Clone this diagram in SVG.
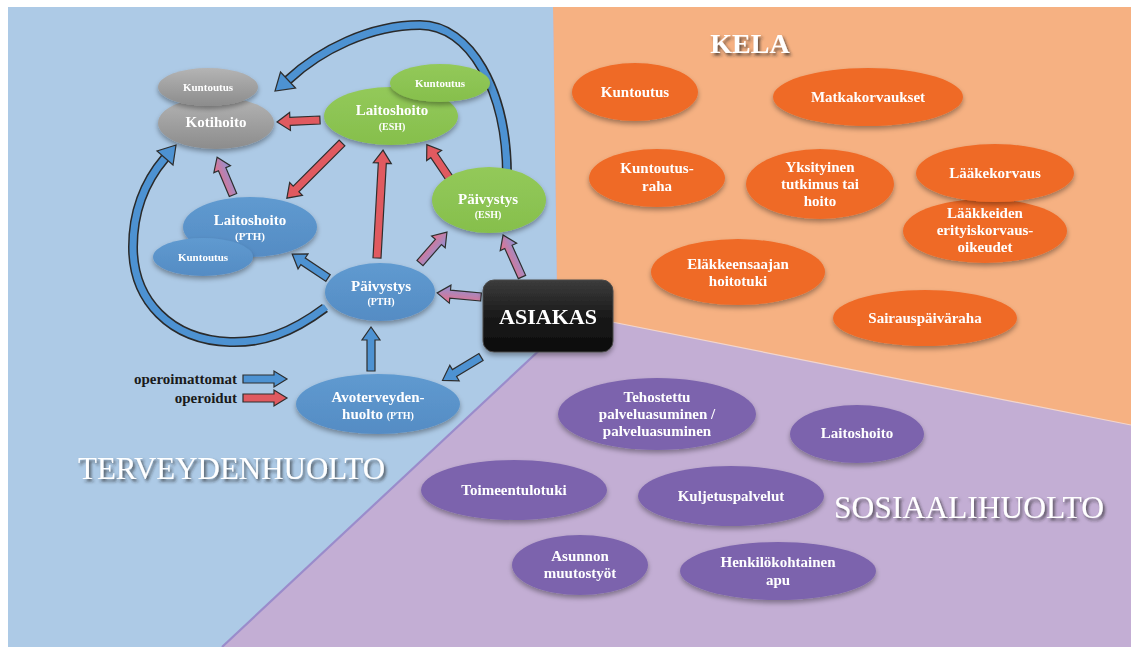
<svg xmlns="http://www.w3.org/2000/svg" width="1131" height="647" viewBox="0 0 1131 647">
<defs>
<style>
.nt{font-family:"Liberation Serif","DejaVu Serif",serif;font-weight:bold;fill:#fff;text-anchor:middle}
.f15{font-size:15px}
.f11{font-size:11px}
.f10{font-size:10px}
.lg{font-family:"Liberation Serif","DejaVu Serif",serif;font-weight:bold;font-size:15px;fill:#1a1a1a;text-anchor:end}
.title{font-family:"Liberation Serif","DejaVu Serif",serif;fill:#fff}
.red{fill:#e05a60;stroke:#2e2e2e;stroke-width:1.2;stroke-linejoin:miter}
.blu{fill:#4d92d2;stroke:#2e2e2e;stroke-width:1.2}
.pnk{fill:url(#pg);stroke:#2e2e2e;stroke-width:1.2}
.eb{fill:url(#gb)}
.eg{fill:url(#gg)}
.egr{fill:url(#ggr)}
.eo{fill:#ef6a27}
.ep{fill:#7c64ad}
.band{fill:none;stroke:#2a2a2a;stroke-width:10}
.bandin{fill:none;stroke:#4d92d2;stroke-width:7}
</style>
<linearGradient id="pg" x1="0" y1="0" x2="0" y2="1">
<stop offset="0" stop-color="#ea6f86"/><stop offset="1" stop-color="#8b93d8"/>
</linearGradient>
<linearGradient id="gb" x1="0" y1="0" x2="0" y2="1">
<stop offset="0" stop-color="#5f9ad0"/><stop offset="1" stop-color="#558cc4"/>
</linearGradient>
<linearGradient id="gg" x1="0" y1="0" x2="0" y2="1">
<stop offset="0" stop-color="#93c95a"/><stop offset="1" stop-color="#86bf4c"/>
</linearGradient>
<linearGradient id="ggr" x1="0" y1="0" x2="0" y2="1">
<stop offset="0" stop-color="#b4b4b4"/><stop offset="1" stop-color="#8c8c8c"/>
</linearGradient>
<linearGradient id="ga" x1="0" y1="0" x2="0" y2="1">
<stop offset="0" stop-color="#3c3c3c"/><stop offset="0.5" stop-color="#1a1a1a"/><stop offset="1" stop-color="#0c0c0c"/>
</linearGradient>
<filter id="sh" x="-20%" y="-20%" width="140%" height="160%">
<feDropShadow dx="0" dy="3" stdDeviation="2.5" flood-color="#000" flood-opacity="0.35"/>
</filter>
<filter id="tsh" x="-10%" y="-30%" width="120%" height="170%">
<feDropShadow dx="2" dy="2.5" stdDeviation="1.5" flood-color="#222" flood-opacity="0.7"/>
</filter>
</defs>

<!-- background regions -->
<rect x="0" y="0" width="1131" height="647" fill="#ffffff"/>
<rect x="8" y="7" width="1123" height="640" fill="#c3aed4"/>
<polygon points="553,7 1131,7 1131,425 612,322 557,300" fill="#f6b182"/>
<line x1="612" y1="322" x2="1131" y2="425" stroke="#f3d6cc" stroke-width="1.2"/>
<polygon points="8,7 553,7 557,300 545,345 222,647 8,647" fill="#adcae6"/>
<line x1="545" y1="345" x2="222" y2="647" stroke="#9a8ccb" stroke-width="2.2"/>

<!-- section titles -->
<text class="title" x="750" y="53" font-size="28" font-weight="bold" text-anchor="middle" filter="url(#tsh)">KELA</text>
<text class="title" x="78" y="479" font-size="31" textLength="307" lengthAdjust="spacingAndGlyphs" filter="url(#tsh)">TERVEYDENHUOLTO</text>
<text class="title" x="834" y="518" font-size="31" textLength="270" lengthAdjust="spacingAndGlyphs" filter="url(#tsh)">SOSIAALIHUOLTO</text>

<!-- connectors -->
<g id="connectors">
<!-- big arc Päivystys (ESH) -> Kotihoito -->
<path class="band" d="M507,176 C507,90 470,25 420,25 C370,25 320,50 288,80"/>
<path class="bandin" d="M507,177 C507,90 470,25 420,25 C370,25 320,50 288,80"/>
<polygon class="blu" points="295.5,88 280.5,72 275,91"/>
<!-- loop Päivystys (PTH) -> Kotihoito -->
<path class="band" d="M325,308 C290,334 262,343 230,342 C170,340 133,300 133,247 C133,205 148,178 165,158"/>
<path class="bandin" d="M326,307 C290,334 262,343 230,342 C170,340 133,300 133,247 C133,205 148,178 165,158"/>
<polygon class="blu" points="173,165 157,151 176,145"/>

<!-- straight block arrows -->
<path class="red" transform="translate(320,120) rotate(177.3)" d="M0,-4 H30 V-9 L43,0 L30,9 V4 H0 Z"/>
<path class="red" transform="translate(342,143) rotate(135)" d="M0,-4 H65 V-9 L78,0 L65,9 V4 H0 Z"/>
<path class="red" transform="translate(377,258) rotate(-86.8)" d="M0,-4 H95 V-9 L108,0 L95,9 V4 H0 Z"/>
<path class="red" transform="translate(452,182) rotate(-124)" d="M0,-4 H32 V-9 L45,0 L32,9 V4 H0 Z"/>
<path class="pnk" transform="translate(233,195) rotate(-112.8)" d="M0,-4 H28 V-9 L41,0 L28,9 V4 H0 Z"/>
<path class="pnk" transform="translate(420,263) rotate(-48.9)" d="M0,-4 H28 V-9 L41,0 L28,9 V4 H0 Z"/>
<path class="pnk" transform="translate(522,277) rotate(-114.3)" d="M0,-4 H33 V-9 L46,0 L33,9 V4 H0 Z"/>
<path class="pnk" transform="translate(481,297) rotate(-174.7)" d="M0,-4 H31 V-9 L44,0 L31,9 V4 H0 Z"/>
<path class="blu" transform="translate(328,278) rotate(-146.3)" d="M0,-4 H30 V-9 L43,0 L30,9 V4 H0 Z"/>
<path class="blu" transform="translate(371,371) rotate(-90)" d="M0,-4 H31 V-9 L44,0 L31,9 V4 H0 Z"/>
<path class="blu" transform="translate(481,357) rotate(148.8)" d="M0,-4 H31 V-9 L45,0 L31,9 V4 H0 Z"/>
<!-- legend arrows -->
<path class="blu" transform="translate(243,379)" d="M0,-4 H31 V-8 L44,0 L31,8 V4 H0 Z"/>
<path class="red" transform="translate(243,398)" d="M0,-4 H31 V-8 L44,0 L31,8 V4 H0 Z"/>
</g>

<!-- legend labels -->
<g id="legend">
<text class="lg" x="237" y="384">operoimattomat</text>
<text class="lg" x="237" y="403">operoidut</text>
</g>

<!-- health care nodes -->
<g id="kotihoito" filter="url(#sh)">
<ellipse class="egr" cx="216" cy="123" rx="58" ry="26"/>
<text class="nt f15" x="216" y="127">Kotihoito</text>
</g>
<g id="kuntoutus-koti" filter="url(#sh)">
<ellipse class="egr" cx="208" cy="87" rx="50" ry="19"/>
<text class="nt f11" x="208" y="91">Kuntoutus</text>
</g>
<g id="laitoshoito-esh" filter="url(#sh)">
<ellipse class="eg" cx="391" cy="116" rx="67" ry="29"/>
<text class="nt f15" x="392" y="115">Laitoshoito</text>
<text class="nt f10" x="392" y="130">(ESH)</text>
</g>
<g id="kuntoutus-esh" filter="url(#sh)">
<ellipse class="eg" cx="440" cy="83" rx="50" ry="19"/>
<text class="nt f11" x="440" y="87">Kuntoutus</text>
</g>
<g id="paivystys-esh" filter="url(#sh)">
<ellipse class="eg" cx="489" cy="200" rx="57" ry="33"/>
<text class="nt f15" x="488" y="204">Päivystys</text>
<text class="nt f10" x="488" y="218">(ESH)</text>
</g>
<g id="laitoshoito-pth" filter="url(#sh)">
<ellipse class="eb" cx="250" cy="227" rx="67" ry="30"/>
<text class="nt f15" x="250" y="225">Laitoshoito</text>
<text class="nt f11" x="250" y="240">(PTH)</text>
</g>
<g id="kuntoutus-pth" filter="url(#sh)">
<ellipse class="eb" cx="203" cy="257" rx="50" ry="19"/>
<text class="nt f11" x="203" y="261">Kuntoutus</text>
</g>
<g id="paivystys-pth" filter="url(#sh)">
<ellipse class="eb" cx="380" cy="292" rx="55" ry="29"/>
<text class="nt f15" x="381" y="291">Päivystys</text>
<text class="nt f10" x="381" y="305">(PTH)</text>
</g>
<g id="avoterveydenhuolto" filter="url(#sh)">
<ellipse class="eb" cx="378" cy="404" rx="82" ry="30"/>
<text class="nt f15" x="378" y="402">Avoterveyden-</text>
<text class="nt f15" x="378" y="419">huolto <tspan font-size="10px">(PTH)</tspan></text>
</g>

<!-- ASIAKAS -->
<g id="asiakas" filter="url(#sh)">
<rect x="483" y="280" width="130" height="72" rx="11" fill="url(#ga)" stroke="#4a4a4a" stroke-width="1"/>
<text class="nt" x="548" y="324" font-size="22" textLength="98" lengthAdjust="spacingAndGlyphs">ASIAKAS</text>
</g>

<!-- KELA nodes -->
<g id="kela-kuntoutus" filter="url(#sh)">
<ellipse class="eo" cx="635" cy="92" rx="63" ry="29"/>
<text class="nt f15" x="635" y="97">Kuntoutus</text>
</g>
<g id="matkakorvaukset" filter="url(#sh)">
<ellipse class="eo" cx="868" cy="97" rx="95" ry="29"/>
<text class="nt f15" x="868" y="102">Matkakorvaukset</text>
</g>
<g id="kuntoutusraha" filter="url(#sh)">
<ellipse class="eo" cx="657" cy="178" rx="68" ry="29"/>
<text class="nt f15" x="657" y="173">Kuntoutus-</text>
<text class="nt f15" x="657" y="191">raha</text>
</g>
<g id="yksityinen" filter="url(#sh)">
<ellipse class="eo" cx="820" cy="184" rx="74" ry="35"/>
<text class="nt f15" x="820" y="172">Yksityinen</text>
<text class="nt f15" x="820" y="189">tutkimus tai</text>
<text class="nt f15" x="820" y="206">hoito</text>
</g>
<g id="laakkeiden" filter="url(#sh)">
<ellipse class="eo" cx="985" cy="231" rx="82" ry="32"/>
<text class="nt f15" x="985" y="218">Lääkkeiden</text>
<text class="nt f15" x="985" y="235">erityiskorvaus-</text>
<text class="nt f15" x="985" y="252">oikeudet</text>
</g>
<g id="laakekorvaus" filter="url(#sh)">
<ellipse class="eo" cx="995" cy="173" rx="79" ry="29"/>
<text class="nt f15" x="995" y="178">Lääkekorvaus</text>
</g>
<g id="elakkeensaajan" filter="url(#sh)">
<ellipse class="eo" cx="738" cy="272" rx="87" ry="33"/>
<text class="nt f15" x="738" y="269">Eläkkeensaajan</text>
<text class="nt f15" x="738" y="286">hoitotuki</text>
</g>
<g id="sairauspaivaraha" filter="url(#sh)">
<ellipse class="eo" cx="925" cy="318" rx="92" ry="28"/>
<text class="nt f15" x="925" y="323">Sairauspäiväraha</text>
</g>

<!-- social care nodes -->
<g id="tehostettu" filter="url(#sh)">
<ellipse class="ep" cx="657" cy="414" rx="99" ry="36"/>
<text class="nt f15" x="657" y="402">Tehostettu</text>
<text class="nt f15" x="657" y="419">palveluasuminen /</text>
<text class="nt f15" x="657" y="436">palveluasuminen</text>
</g>
<g id="laitoshoito-sos" filter="url(#sh)">
<ellipse class="ep" cx="857" cy="434" rx="67" ry="29"/>
<text class="nt f15" x="857" y="438">Laitoshoito</text>
</g>
<g id="toimeentulotuki" filter="url(#sh)">
<ellipse class="ep" cx="514" cy="490" rx="93" ry="30"/>
<text class="nt f15" x="514" y="495">Toimeentulotuki</text>
</g>
<g id="kuljetuspalvelut" filter="url(#sh)">
<ellipse class="ep" cx="731" cy="496" rx="93" ry="30"/>
<text class="nt f15" x="731" y="501">Kuljetuspalvelut</text>
</g>
<g id="asunnon" filter="url(#sh)">
<ellipse class="ep" cx="580" cy="565" rx="68" ry="30"/>
<text class="nt f15" x="580" y="561">Asunnon</text>
<text class="nt f15" x="580" y="578">muutostyöt</text>
</g>
<g id="henkilokohtainen" filter="url(#sh)">
<ellipse class="ep" cx="778" cy="571" rx="98" ry="29"/>
<text class="nt f15" x="778" y="567">Henkilökohtainen</text>
<text class="nt f15" x="778" y="585">apu</text>
</g>
</svg>
